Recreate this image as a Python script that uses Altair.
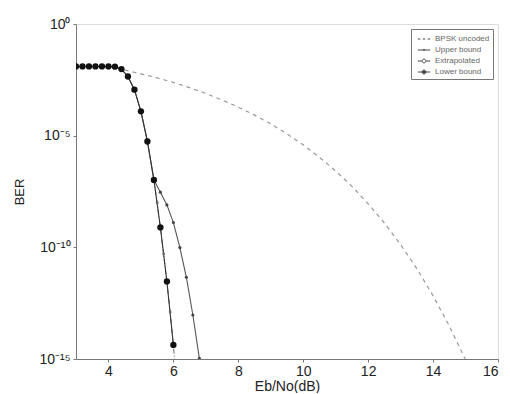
import altair as alt
import pandas as pd

# ---- data (log10 of BER) ----
x_lower = [3.0, 3.2, 3.4, 3.6, 3.8, 4.0, 4.2, 4.4, 4.6, 4.8, 5.0, 5.2, 5.4, 5.6, 5.8, 6.0]
log_lower = [-1.90, -1.90, -1.90, -1.90, -1.90, -1.90, -1.91, -2.02, -2.35, -2.94,
             -3.91, -5.26, -6.98, -9.11, -11.53, -14.37]

x_upper = [3.0, 3.2, 3.4, 3.6, 3.8, 4.0, 4.2, 4.4, 4.6, 4.8, 5.0, 5.2, 5.4,
           5.6, 5.8, 6.0, 6.2, 6.4, 6.6, 6.8]
log_upper = [-1.90, -1.90, -1.90, -1.90, -1.90, -1.90, -1.91, -2.02, -2.35, -2.94,
             -3.91, -5.26, -6.98, -7.53, -8.10, -8.89, -10.01, -11.34, -13.03, -14.97]

x_extrap = [5.4, 5.5, 5.6, 5.7, 5.8, 5.9, 6.0, 6.05]
log_extrap = [-6.98, -8.00, -9.11, -10.30, -11.53, -12.90, -14.37, -15.30]

x_bpsk = [4.5, 5.0, 5.5, 6.0, 6.5, 7.0, 7.5, 8.0, 8.5, 9.0, 9.5, 10.0, 10.5,
          11.0, 11.5, 12.0, 12.5, 13.0, 13.5, 14.0, 14.5, 15.0]
log_bpsk = [-2.06, -2.23, -2.41, -2.62, -2.85, -3.11, -3.40, -3.72, -4.08, -4.47,
            -4.92, -5.41, -5.97, -6.58, -7.27, -8.05, -8.91, -9.88, -10.95, -12.17,
            -13.52, -15.04]

series_names = ["BPSK uncoded", "Upper bound", "Extrapolated", "Lower bound"]
x_ticks = [4, 6, 8, 10, 12, 14, 16]
y_ticks = [1.0, 1e-5, 1e-10, 1e-15]

def frame(xs, logs, name):
    return pd.DataFrame({"ebno": xs, "ber": [10.0 ** v for v in logs], "series": name})

df_bpsk = frame(x_bpsk, log_bpsk, series_names[0])
df_upper = frame(x_upper, log_upper, series_names[1])
df_extrap = frame(x_extrap, log_extrap, series_names[2])
df_lower = frame(x_lower, log_lower, series_names[3])
df_all = pd.concat([df_bpsk, df_upper, df_extrap, df_lower])

FONT = "Liberation Sans"

xs = alt.X("ebno:Q", scale=alt.Scale(domain=[3, 16], nice=False, zero=False),
           axis=alt.Axis(values=x_ticks, title="Eb/No(dB)", grid=False,
                         labelFont=FONT, titleFont=FONT, labelFontSize=14,
                         titleFontSize=14, titleFontWeight="normal",
                         labelColor="#222", titleColor="#222",
                         domainColor="#777", tickColor="#777", tickSize=3,
                         labelPadding=2, titlePadding=1))
ys = alt.Y("ber:Q", scale=alt.Scale(type="log", domain=[1e-15, 1], nice=False),
           axis=alt.Axis(values=y_ticks, title="BER", grid=False,
                         labelExpr="'10' + ({'0':'⁰','-5':'⁻⁵','-10':'⁻¹⁰','-15':'⁻¹⁵'})[''+round(log(datum.value)/LN10)]",
                         labelFont=FONT, titleFont=FONT, labelFontSize=14,
                         titleFontSize=13, titleFontWeight="normal",
                         labelColor="#222", titleColor="#222",
                         domainColor="#777", tickColor="#777", tickSize=3,
                         labelPadding=3, titlePadding=12))

bpsk = alt.Chart(df_bpsk).mark_line(color="#999", strokeWidth=1.2,
                                    strokeDash=[4, 4], clip=True).encode(x=xs, y=ys)

upper_line = alt.Chart(df_upper).mark_line(color="#555", strokeWidth=1.1, clip=True).encode(x=xs, y=ys)
upper_pts = alt.Chart(df_upper).mark_point(filled=True, color="#444", opacity=1,
                                           size=10, clip=True).encode(x=xs, y=ys)

extrap_line = alt.Chart(df_extrap).mark_line(color="#666", strokeWidth=1.0,
                                             strokeDash=[5, 2, 1, 2], clip=True).encode(x=xs, y=ys)
extrap_pts = alt.Chart(df_extrap[df_extrap["ebno"] <= 6.0]).mark_point(
    filled=True, color="#666", opacity=1, size=8, clip=True).encode(x=xs, y=ys)

lower_line = alt.Chart(df_lower).mark_line(color="#333", strokeWidth=1.1, clip=True).encode(x=xs, y=ys)
lower_pts = alt.Chart(df_lower).mark_point(filled=True, color="#111", opacity=1,
                                           size=40, clip=True).encode(x=xs, y=ys)

def circ(r):
    return f"M{r},0A{r},{r},0,1,1,-{r},0A{r},{r},0,1,1,{r},0"

shape_paths = [
    "M-1,0H-0.6M-0.2,0H0.2M0.6,0H1",
    "M-1,0H1" + circ(0.08),
    "M-1,0H-0.35M0.35,0H1" + circ(0.3),
    "M-1,0H1" + circ(0.32) + circ(0.22) + circ(0.12) + circ(0.04),
]

legend_layer = alt.Chart(df_all).mark_point(opacity=0, filled=False).encode(
    x=xs, y=ys,
    shape=alt.Shape("series:N",
                    scale=alt.Scale(domain=series_names, range=shape_paths),
                    legend=alt.Legend(title=None, orient="top-right", offset=5,
                                      symbolSize=150, symbolOpacity=1,
                                      symbolStrokeColor="#444",
                                      symbolStrokeWidth=1.0,
                                      labelFont=FONT, labelFontSize=8, labelColor="#666",
                                      fillColor="white", strokeColor="#777",
                                      padding=3, rowPadding=0, labelOffset=4,
                                      symbolOffset=3)))

chart = alt.layer(bpsk, upper_line, extrap_line, lower_line, upper_pts, extrap_pts,
                  lower_pts, legend_layer).properties(
    width=422, height=335,
    autosize=alt.AutoSizeParams(type="none"),
    padding={"left": 68, "top": 16, "right": 2, "bottom": 34},
).configure_view(stroke="#777", strokeWidth=1).configure(background="white")

chart.save("out.html", embed_options={"renderer": "svg", "actions": False})
